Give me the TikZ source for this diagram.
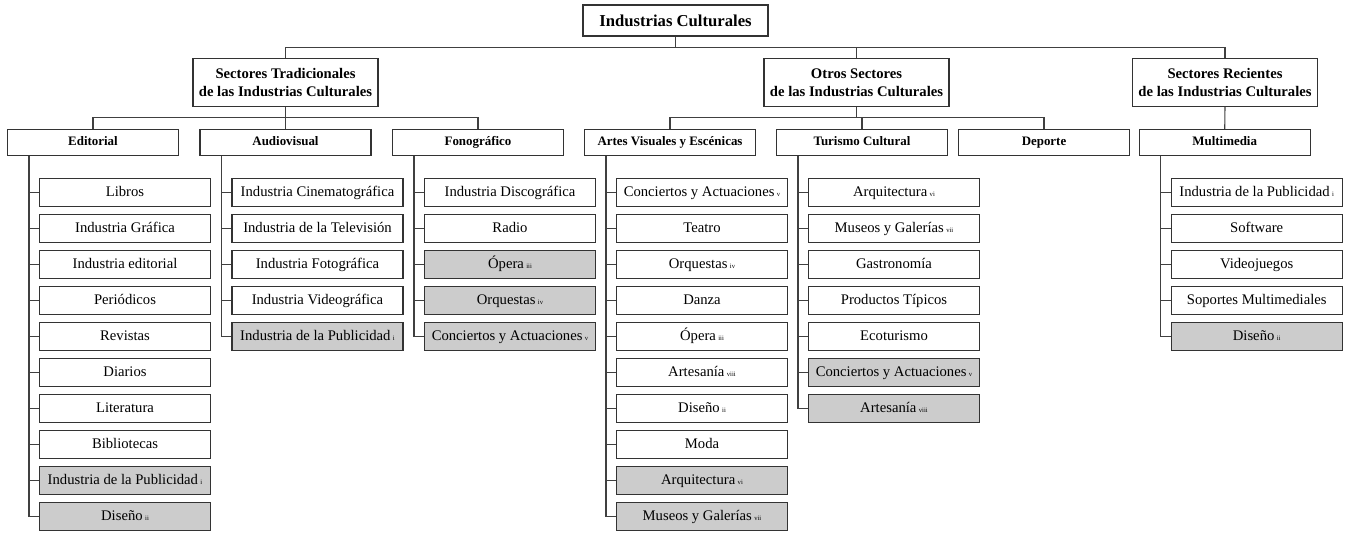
\documentclass[tikz,border=0pt]{standalone}
\usepackage{fontspec}
\setmainfont{Liberation Serif}
\usetikzlibrary{positioning,calc}

\newcommand{\nota}[1]{\,{\fontsize{5}{5}\selectfont #1}}

\begin{document}
\begin{tikzpicture}[
        x=0.75pt, y=-0.75pt,
        every node/.style={draw=black!80, line width=0.9pt, inner sep=1pt, align=center},
        titulo/.style={font=\fontsize{12.5}{15}\selectfont\bfseries, minimum width=138.75pt, minimum height=23.25pt},
        sector/.style={font=\fontsize{11}{13.3}\selectfont\bfseries, minimum width=138.75pt, minimum height=35.7pt},
        area/.style={font=\fontsize{9.7}{12}\selectfont\bfseries, minimum width=128.25pt, minimum height=19.5pt,
            text height=7pt, text depth=2pt},
        hoja/.style={font=\fontsize{11}{13}\selectfont, minimum width=128.25pt, minimum height=21pt,
            text height=8pt, text depth=2.5pt},
        ghoja/.style={hoja, fill=black!20},
        conn/.style={draw=black!75, line width=0.8pt}
        ]
    \useasboundingbox (0,0) rectangle (1351,533);

    % niveles superiores
    \node[titulo] (ic) at (675.5,20.5) {Industrias Culturales};
    \node[sector] (trad) at (285.5,82.5) {Sectores Tradicionales\\de las Industrias Culturales};
    \node[sector] (otros) at (856.5,82.5) {Otros Sectores\\de las Industrias Culturales};
    \node[sector] (recien) at (1225,82.5) {Sectores Recientes\\de las Industrias Culturales};

    \node[area] (edit) at (93,142.5) {Editorial};
    \node[area] (audio) at (285.5,142.5) {Audiovisual};
    \node[area] (fono) at (478,142.5) {Fonográfico};
    \node[area] (artes) at (670,142.5) {Artes Visuales y Escénicas};
    \node[area] (turis) at (862,142.5) {Turismo Cultural};
    \node[area] (deporte) at (1044,142.5) {Deporte};
    \node[area] (multi) at (1224.7,142.5) {Multimedia};

    \coordinate (bus1) at (0,47.5);
    \coordinate (bus2) at (0,117.7);

    \draw[conn] (ic.south) -- (ic.south |- bus1);
    \draw[conn] (trad.north) |- (recien.north |- bus1) -- (recien.north);
    \draw[conn] (otros.north) -- (otros.north |- bus1);

    \draw[conn] (trad.south) -- (trad.south |- bus2);
    \draw[conn] (edit.north) |- (fono.north |- bus2) -- (fono.north);
    \draw[conn] (audio.north) -- (audio.north |- bus2);
    \draw[conn] (otros.south) -- (otros.south |- bus2);
    \draw[conn] (artes.north) |- (deporte.north |- bus2) -- (deporte.north);
    \draw[conn] (turis.north) -- (turis.north |- bus2);
    \draw[conn] (recien.south) -- (multi.north);

    % hojas
    \foreach \t/\s [count=\i] in {Libros/hoja, Industria Gráfica/hoja, Industria editorial/hoja,
            Periódicos/hoja, Revistas/hoja, Diarios/hoja, Literatura/hoja, Bibliotecas/hoja,
            {Industria de la Publicidad\nota{i}}/ghoja, {Diseño\nota{ii}}/ghoja} {
        \node[\s] (edit-\i) at (125,{192.5+36*(\i-1)}) {\t};
        \draw[conn] (edit-\i.west) -- ++(-10.5,0);
    }
    \draw[conn] ($(edit.south)+(-64,0)$) |- (edit-10.west);

    \foreach \t/\s [count=\i] in {Industria Cinematográfica/hoja, Industria de la Televisión/hoja,
            Industria Fotográfica/hoja, Industria Videográfica/hoja,
            {Industria de la Publicidad\nota{i}}/ghoja} {
        \node[\s] (audio-\i) at (317.5,{192.5+36*(\i-1)}) {\t};
        \draw[conn] (audio-\i.west) -- ++(-10.5,0);
    }
    \draw[conn] ($(audio.south)+(-64,0)$) |- (audio-5.west);

    \foreach \t/\s [count=\i] in {Industria Discográfica/hoja, Radio/hoja,
            {Ópera\nota{iii}}/ghoja, {Orquestas\nota{iv}}/ghoja,
            {Conciertos y Actuaciones\nota{v}}/ghoja} {
        \node[\s] (fono-\i) at (510,{192.5+36*(\i-1)}) {\t};
        \draw[conn] (fono-\i.west) -- ++(-10.5,0);
    }
    \draw[conn] ($(fono.south)+(-64,0)$) |- (fono-5.west);

    \foreach \t/\s [count=\i] in {{Conciertos y Actuaciones\nota{v}}/hoja, Teatro/hoja,
            {Orquestas\nota{iv}}/hoja, Danza/hoja, {Ópera\nota{iii}}/hoja,
            {Artesanía\nota{viii}}/hoja, {Diseño\nota{ii}}/hoja, Moda/hoja,
            {Arquitectura\nota{vi}}/ghoja, {Museos y Galerías\nota{vii}}/ghoja} {
        \node[\s] (artes-\i) at (702,{192.5+36*(\i-1)}) {\t};
        \draw[conn] (artes-\i.west) -- ++(-10.5,0);
    }
    \draw[conn] ($(artes.south)+(-64,0)$) |- (artes-10.west);

    \foreach \t/\s [count=\i] in {{Arquitectura\nota{vi}}/hoja, {Museos y Galerías\nota{vii}}/hoja,
            Gastronomía/hoja, Productos Típicos/hoja, Ecoturismo/hoja,
            {Conciertos y Actuaciones\nota{v}}/ghoja, {Artesanía\nota{viii}}/ghoja} {
        \node[\s] (turis-\i) at (894,{192.5+36*(\i-1)}) {\t};
        \draw[conn] (turis-\i.west) -- ++(-10.5,0);
    }
    \draw[conn] ($(turis.south)+(-64,0)$) |- (turis-7.west);

    \foreach \t/\s [count=\i] in {{Industria de la Publicidad\nota{i}}/hoja, Software/hoja,
            Videojuegos/hoja, Soportes Multimediales/hoja, {Diseño\nota{ii}}/ghoja} {
        \node[\s] (multi-\i) at (1256.7,{192.5+36*(\i-1)}) {\t};
        \draw[conn] (multi-\i.west) -- ++(-10.5,0);
    }
    \draw[conn] ($(multi.south)+(-64,0)$) |- (multi-5.west);
\end{tikzpicture}
\end{document}
